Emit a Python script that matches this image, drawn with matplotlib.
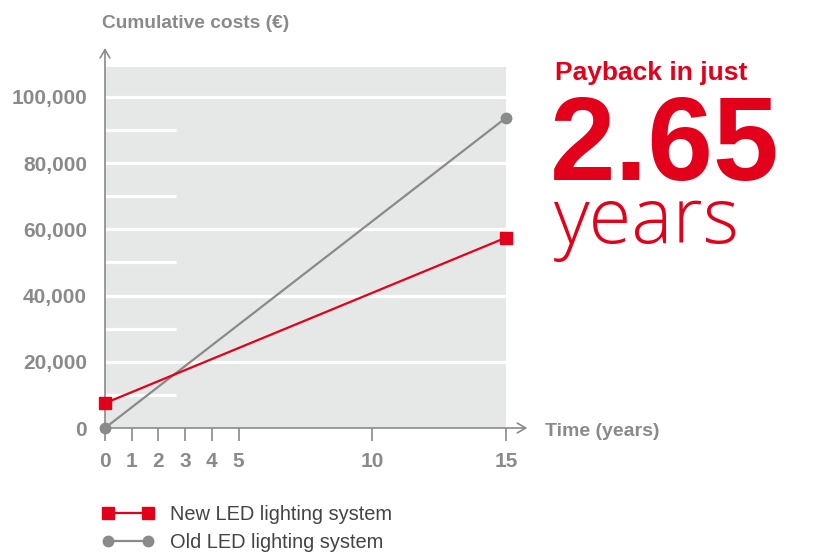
import matplotlib
matplotlib.use("Agg")
import matplotlib.pyplot as plt
from matplotlib.patches import Rectangle
from matplotlib.lines import Line2D

### Payback chart: cumulative costs of new vs old lighting system

years = [0, 15]
new_led = [7500, 57500]
old_led = [0, 93700]

x_ticks = [0, 1, 2, 3, 4, 5, 10, 15]
y_ticks = [0, 20000, 40000, 60000, 80000, 100000]
y_labels = ["0", "20,000", "40,000", "60,000", "80,000", "100,000"]
payback = 2.65

RED = "#e2001a"
GREY = "#8a8a8a"
BG = "#e6e7e7"

plt.rcParams['font.family'] = ['Liberation Sans', 'DejaVu Sans']

fig = plt.figure(figsize=(8.17, 5.54), dpi=100)
W, H = 817, 554
ax = fig.add_axes([105/W, 126/H, 425/W, 383/H])
ax.set_xlim(0, 15.9)
ax.set_ylim(0, 115700)
for s in ax.spines.values():
    s.set_visible(False)

# grey panel with white grid lines
ax.add_patch(Rectangle((0, 0), 15, 109000, facecolor=BG, edgecolor='none', zorder=0))
for y in range(20000, 101000, 20000):
    ax.plot([0, 15], [y, y], color='white', lw=2.3, zorder=1, solid_capstyle='butt')
for y in range(10000, 91000, 20000):
    ax.plot([0, payback], [y, y], color='white', lw=2.3, zorder=1, solid_capstyle='butt')

# axes with open arrow heads
ax.annotate("", xy=(15.8, 0), xytext=(0, 0), annotation_clip=False,
            arrowprops=dict(arrowstyle='->,head_length=0.6,head_width=0.35', color=GREY, lw=1.2,
                            shrinkA=0, shrinkB=0))
ax.annotate("", xy=(0, 114800), xytext=(0, 0), annotation_clip=False,
            arrowprops=dict(arrowstyle='->,head_length=0.6,head_width=0.35', color=GREY, lw=1.2,
                            shrinkA=0, shrinkB=0))

ax.plot(years, old_led, color=GREY, lw=1.6, marker='o', ms=7.5, clip_on=False, zorder=4)
ax.plot(years, new_led, color=RED, lw=1.6, marker='s', ms=8, clip_on=False, zorder=5)

ax.set_xticks(x_ticks)
ax.set_xticklabels([str(t) for t in x_ticks])
ax.set_yticks(y_ticks)
ax.set_yticklabels(y_labels)
ax.tick_params(axis='x', direction='out', length=9, width=1.2, color=GREY,
               labelcolor=GREY, labelsize=15, pad=8)
ax.tick_params(axis='y', length=0, labelcolor=GREY, labelsize=15, pad=13)
for lab in ax.get_xticklabels() + ax.get_yticklabels():
    lab.set_fontweight('bold')

fig.text(102/W, 1 - 28/H, "Cumulative costs (€)", color=GREY, fontsize=13.8,
         fontweight='bold', va='baseline', ha='left')
fig.text(545/W, 1 - 436/H, "Time (years)", color=GREY, fontsize=14,
         fontweight='bold', va='baseline', ha='left')

# payback headline
fig.text(555/W, 1 - 80/H, "Payback in just", color=RED, fontsize=19,
         fontweight='bold', va='baseline', ha='left')
fig.text(550/W, 1 - 180/H, "2.65", color=RED, fontsize=85,
         fontweight='bold', va='baseline', ha='left')
fig.text(553/W, 1 - 243/H, "years", color=RED, fontsize=56,
         fontweight='light', va='baseline', ha='left',
         family=['Open Sans', 'Liberation Sans'])

handles = [Line2D([], [], color=RED, lw=1.6, marker='s', ms=8),
           Line2D([], [], color=GREY, lw=1.6, marker='o', ms=7.5)]
leg = fig.legend(handles, ["New LED lighting system", "Old LED lighting system"],
                 loc='upper left', bbox_to_anchor=(102/W, 1 - 505/H), frameon=False,
                 numpoints=2, handlelength=2.6, handletextpad=0.8, labelspacing=0.45,
                 fontsize=14.4, borderaxespad=0, borderpad=0)
for t in leg.get_texts():
    t.set_color("#444444")

fig.savefig("out.png", dpi=100)
